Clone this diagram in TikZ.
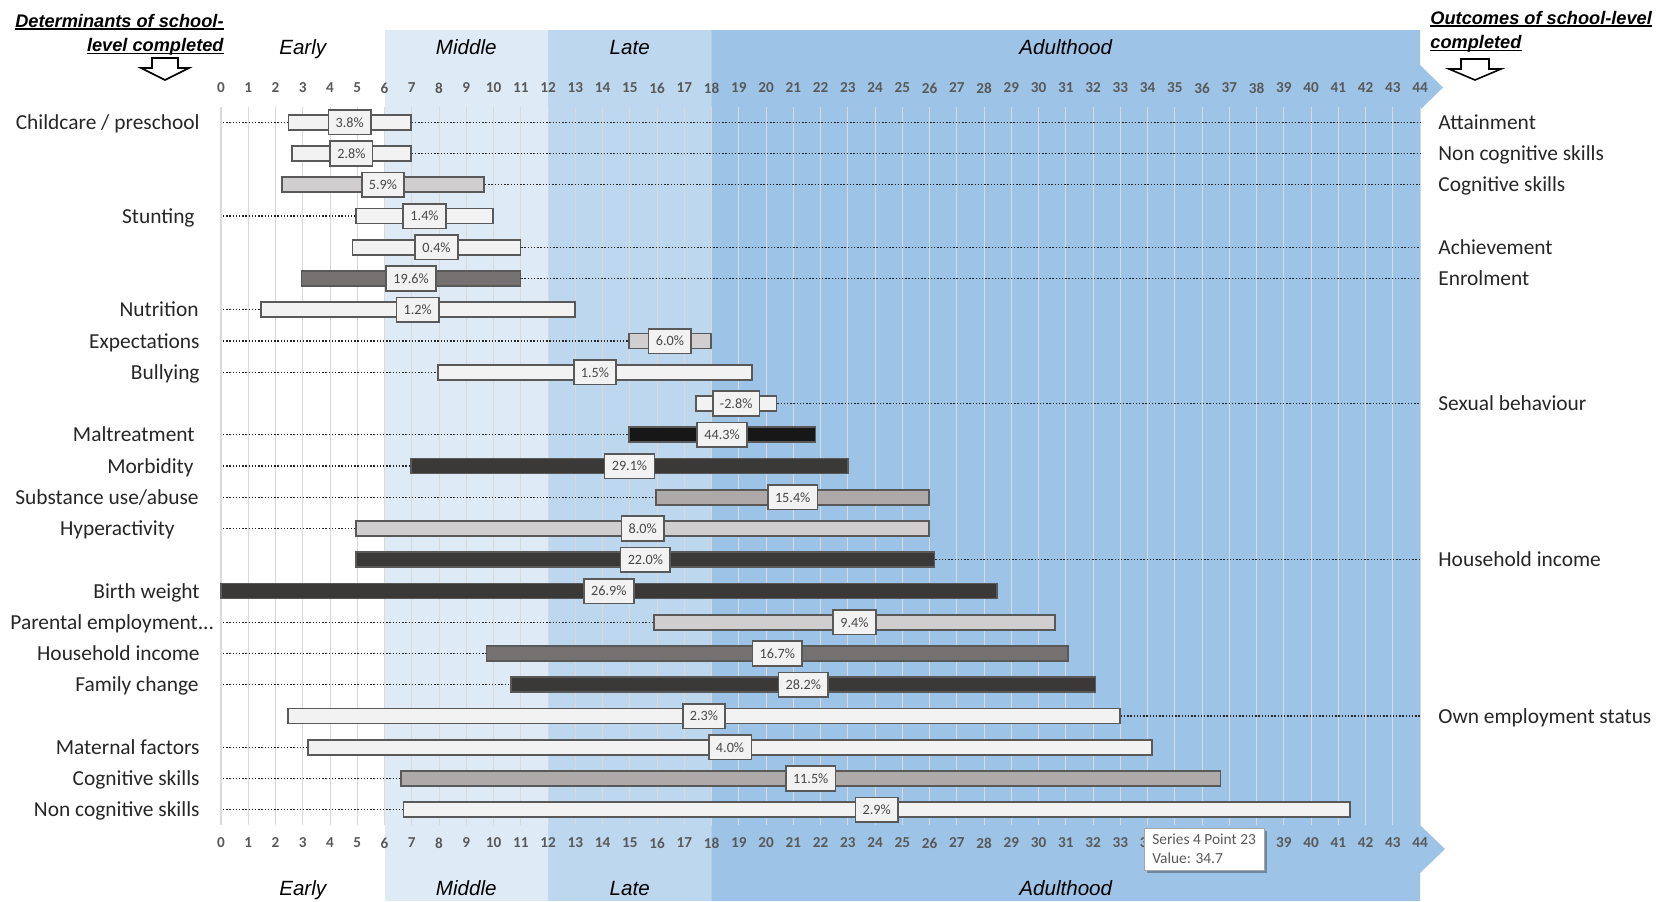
\documentclass[tikz,border=0pt]{standalone}
\usepackage{fontspec}
\setmainfont{Carlito}
\newfontfamily\arialfont{Liberation Sans}
\usepackage{tikz}
\usetikzlibrary{
  shadows
}
\usepackage{xcolor}
\definecolor{bandA}{RGB}{222, 235, 247}
\definecolor{bandB}{RGB}{189, 215, 238}
\definecolor{bandC}{RGB}{157, 195, 230}
\definecolor{fillLt}{RGB}{242, 242, 242}
\definecolor{fillLg}{RGB}{208, 206, 206}
\definecolor{fillMg}{RGB}{174, 170, 170}
\definecolor{fillDg}{RGB}{118, 113, 113}
\definecolor{fillVd}{RGB}{59,  56,  56}
\definecolor{fillBk}{RGB}{23,  23,  23}
\definecolor{edgeclr}{RGB}{89,  89,  89}
\definecolor{gridclr}{RGB}{217, 217, 217}
\definecolor{txtclr}{RGB}{38,  38,  38}
\tikzset{
  % Bars
  ganttbar/.style = {rectangle, draw=edgeclr, line width=0.8pt,
                     minimum height=7.5pt, inner sep=0pt},
  barLt/.style    = {ganttbar, fill=fillLt},
  barLg/.style    = {ganttbar, fill=fillLg},
  barMg/.style    = {ganttbar, fill=fillMg},
  barDg/.style    = {ganttbar, fill=fillDg},
  barVd/.style    = {ganttbar, fill=fillVd},
  barBk/.style    = {ganttbar, fill=fillBk},
  % Percentage boxes
  pctlab/.style   = {rectangle, draw=edgeclr, line width=0.8pt, fill=fillLt,
                     text=txtclr!85, font=\fontsize{7.1}{8}\selectfont,
                     minimum height=12.3pt, inner xsep=3.6pt, inner ysep=0pt},
  % Lines
  dotline/.style  = {line width=0.7pt, dash pattern=on 0.7pt off 0.9pt, txtclr},
  gridline/.style = {line width=0.5pt, gridclr},
  axisline/.style = {line width=1pt, gridclr},
  ulline/.style   = {line width=0.8pt, black},
  blockarrow/.style = {draw=black, line width=0.8pt, fill=white, line join=miter},
  % Texts
  leftlab/.style  = {anchor=base east, yshift=-3.5pt, inner sep=0pt, text=txtclr,
                     font=\fontsize{10.7}{12}\selectfont},
  rightlab/.style = {anchor=base west, yshift=-3.5pt, inner sep=0pt, text=txtclr,
                     font=\fontsize{10.7}{12}\selectfont},
  ticklab/.style  = {inner sep=0pt, text=edgeclr, font=\bfseries\fontsize{7.6}{9}\selectfont},
  phaselab/.style = {anchor=base, inner sep=0pt, font=\arialfont\itshape\fontsize{10.3}{12}\selectfont},
  headlab/.style  = {inner sep=0pt, font=\arialfont\bfseries\itshape\fontsize{9.1}{12}\selectfont},
  tipbox/.style   = {draw=gray!70, line width=0.6pt, fill=white, text=edgeclr, align=left,
                     font=\fontsize{7.7}{9.5}\selectfont, minimum width=60pt,
                     minimum height=21pt, inner xsep=3.5pt, inner ysep=2pt,
                     drop shadow={shadow xshift=1.5pt, shadow yshift=-1.5pt,
                                  fill=black, opacity=0.3}},
}
% one bar of the chart: row, start, end, style, share
\newcommand{\drawbar}[5]{%
  \pgfmathsetmacro{\barw}{(#3-#2)*13.625}%
  \pgfmathsetmacro{\barx}{221+27.25*(#2+#3)/2}%
  \pgfmathsetmacro{\bary}{91+31.25*#1}%
  \node[#4, minimum width=\barw*1pt] (b#1) at (\barx,\bary) {};
  \node[pctlab] (p#1) at (b#1) {#5};
}

\begin{document}
\begin{tikzpicture}[x=0.5pt, y=-0.5pt]
  \useasboundingbox (0,0) rectangle (1666,901);
  % Life stages
  \fill[bandA] (384.5,30) rectangle (548,901);
  \fill[bandB] (548,30) rectangle (711.5,901);
  \fill[bandC] (711.5,30) -- (1420,30) -- (1420,65) -- (1443,87.5) -- (1420,110)
    -- (1420,825) -- (1445,849) -- (1420,873) -- (1420,901) -- (711.5,901) -- cycle;

  % Grid and age scale
  \foreach \v in {1,...,44}
    \draw[gridline] ({221+27.25*\v},107) -- ({221+27.25*\v},825);
  \draw[axisline] (221,107) -- (221,825);
  \foreach \v in {0,...,44}
    \node[ticklab] (top\v) at ({221+27.25*\v},88) {\v};
  \foreach \v in {0,...,34,39,40,41,42,43,44}
    \node[ticklab] (bot\v) at ({221+27.25*\v},843) {\v};

  \node[phaselab] (earlyT) at (302.75,54) {Early};
  \node[phaselab] (middleT) at (466.25,54) {Middle};
  \node[phaselab] (lateT) at (629.75,54) {Late};
  \node[phaselab] (adultT) at (1065.75,54) {Adulthood};
  \node[phaselab] (earlyB) at (302.75,895) {Early};
  \node[phaselab] (middleB) at (466.25,895) {Middle};
  \node[phaselab] (lateB) at (629.75,895) {Late};
  \node[phaselab] (adultB) at (1065.75,895) {Adulthood};

  % Headings
  \node[headlab, anchor=base east] (dethead) at (224,27) {Determinants of school-};
  \node[headlab, anchor=base east] (dethead2) at (224,51.5) {level completed};
  \draw[ulline] ([yshift=-0.9pt]dethead.base west) -- ([yshift=-0.9pt]dethead.base east);
  \draw[ulline] ([yshift=-0.9pt]dethead2.base west) -- ([yshift=-0.9pt]dethead2.base east);
  \draw[blockarrow] (152,58) -- (178,58) -- (178,68) -- (189,68) -- (165,80)
    -- (141,68) -- (152,68) -- cycle;
  \node[headlab, anchor=base west] (outhead) at (1430,24) {Outcomes of school-level};
  \node[headlab, anchor=base west] (outhead2) at (1430,48.5) {completed};
  \draw[ulline] ([yshift=-0.9pt]outhead.base west) -- ([yshift=-0.9pt]outhead.base east);
  \draw[ulline] ([yshift=-0.9pt]outhead2.base west) -- ([yshift=-0.9pt]outhead2.base east);
  \draw[blockarrow] (1461,59) -- (1489,59) -- (1489,69) -- (1501,69) -- (1475,80)
    -- (1449,69) -- (1461,69) -- cycle;

  % Bars
  \drawbar{1}{2.47}{6.97}{barLt}{3.8\%}
  \drawbar{2}{2.6}{6.97}{barLt}{2.8\%}
  \drawbar{3}{2.23}{9.66}{barLg}{5.9\%}
  \drawbar{4}{4.96}{9.98}{barLt}{1.4\%}
  \drawbar{5}{4.83}{10.99}{barLt}{0.4\%}
  \drawbar{6}{2.96}{10.99}{barDg}{19.6\%}
  \drawbar{7}{1.46}{12.98}{barLt}{1.2\%}
  \drawbar{8}{14.97}{17.98}{barLg}{6.0\%}
  \drawbar{9}{7.96}{19.49}{barLt}{1.5\%}
  \drawbar{10}{17.42}{20.39}{barLt}{-2.8\%}
  \drawbar{11}{14.97}{21.81}{barBk}{44.3\%}
  \drawbar{12}{6.98}{23.0}{barVd}{29.1\%}
  \drawbar{13}{15.97}{25.99}{barMg}{15.4\%}
  \drawbar{14}{4.96}{25.99}{barLg}{8.0\%}
  \drawbar{15}{4.96}{26.19}{barVd}{22.0\%}
  \drawbar{16}{0}{28.47}{barVd}{26.9\%}
  \drawbar{17}{15.89}{30.6}{barLg}{9.4\%}
  \drawbar{18}{9.75}{31.08}{barDg}{16.7\%}
  \drawbar{19}{10.65}{32.09}{barVd}{28.2\%}
  \drawbar{20}{2.46}{32.99}{barLt}{2.3\%}
  \drawbar{21}{3.19}{34.17}{barLt}{4.0\%}
  \drawbar{22}{6.6}{36.68}{barMg}{11.5\%}
  \drawbar{23}{6.7}{41.42}{barLt}{2.9\%}

  % Determinants (left)
  \coordinate (axl) at (223,0);
  \coordinate (axr) at (1420,0);
  \node[leftlab] (l1) at (200,0 |- b1) {Childcare / preschool};
  \node[leftlab] (l4) at (195,0 |- b4) {Stunting};
  \node[leftlab] (l7) at (199,0 |- b7) {Nutrition};
  \node[leftlab] (l8) at (200,0 |- b8) {Expectations};
  \node[leftlab] (l9) at (200,0 |- b9) {Bullying};
  \node[leftlab] (l11) at (195,0 |- b11) {Maltreatment};
  \node[leftlab] (l12) at (194,0 |- b12) {Morbidity};
  \node[leftlab] (l13) at (199,0 |- b13) {Substance use/abuse};
  \node[leftlab] (l14) at (175,0 |- b14) {Hyperactivity};
  \node[leftlab] (l16) at (200,0 |- b16) {Birth weight};
  \node[leftlab, anchor=base west] (l17) at (10,0 |- b17) {Parental employment...};
  \node[leftlab] (l18) at (200,0 |- b18) {Household income};
  \node[leftlab] (l19) at (199,0 |- b19) {Family change};
  \node[leftlab] (l21) at (200,0 |- b21) {Maternal factors};
  \node[leftlab] (l22) at (200,0 |- b22) {Cognitive skills};
  \node[leftlab] (l23) at (200,0 |- b23) {Non cognitive skills};
  \foreach \r in {1,4,7,8,9,11,12,13,14,17,18,19,21,22,23}
    \draw[dotline] (axl |- b\r) -- (b\r.west);

  % Outcomes (right)
  \node[rightlab] (r1) at (1438,0 |- b1) {Attainment};
  \node[rightlab] (r2) at (1438,0 |- b2) {Non cognitive skills};
  \node[rightlab] (r3) at (1438,0 |- b3) {Cognitive skills};
  \node[rightlab] (r5) at (1438,0 |- b5) {Achievement};
  \node[rightlab] (r6) at (1438,0 |- b6) {Enrolment};
  \node[rightlab] (r10) at (1438,0 |- b10) {Sexual behaviour};
  \node[rightlab] (r15) at (1438,0 |- b15) {Household income};
  \node[rightlab] (r20) at (1438,0 |- b20) {Own employment status};
  \foreach \r in {1,2,3,5,6,10,15,20}
    \draw[dotline] (b\r.east) -- (axr |- b\r);

  % Tooltip
  \node[tipbox, anchor=north west] (tip) at (1143.5,827.5) {Series 4 Point 23\\Value: 34.7};
\end{tikzpicture}
\end{document}
